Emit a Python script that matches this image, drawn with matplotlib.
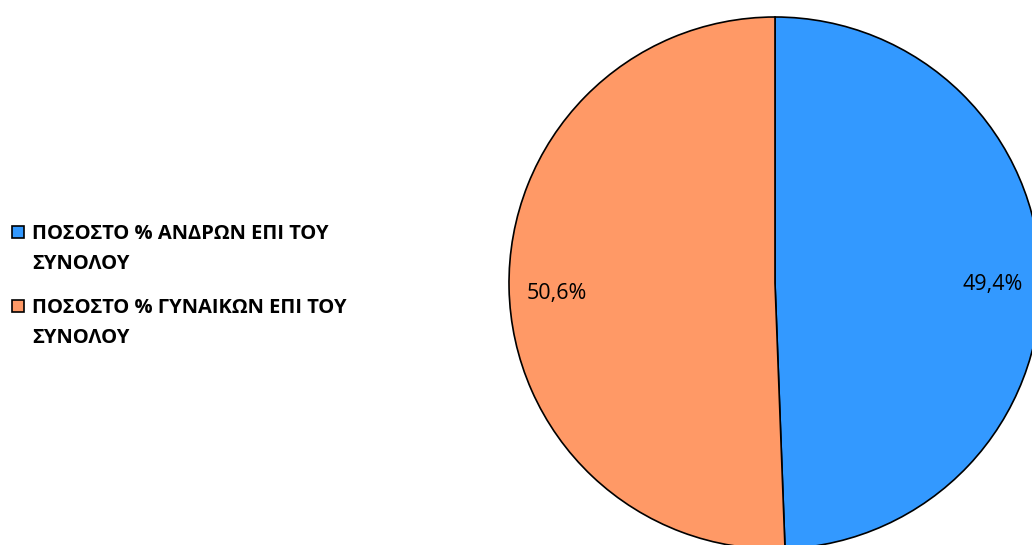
import matplotlib.pyplot as plt
from matplotlib.patches import Rectangle

# data
labels = ['ΠΟΣΟΣΤΟ % ΑΝΔΡΩΝ ΕΠΙ ΤΟΥ\nΣΥΝΟΛΟΥ', 'ΠΟΣΟΣΤΟ % ΓΥΝΑΙΚΩΝ ΕΠΙ ΤΟΥ\nΣΥΝΟΛΟΥ']
values = [49.4, 50.6]
colors = ['#3399FF', '#FF9966']

plt.rcParams['font.family'] = ['Open Sans', 'DejaVu Sans']

W, H = 1032, 545
fig = plt.figure(figsize=(W / 100, H / 100), dpi=100)
ax = fig.add_axes([0, 0, 1, 1])

wedges, texts, autotexts = ax.pie(
    values, colors=colors, startangle=90, counterclock=False,
    center=(775, H - 283), radius=266,
    autopct=lambda p: f'{p:.1f}%'.replace('.', ','), pctdistance=0.82,
    wedgeprops=dict(edgecolor='black', linewidth=1.2),
    textprops=dict(fontsize=15.5, color='black'), frame=True)
# labels sit a little lower in the original
for t in autotexts:
    x, y = t.get_position()
    t.set_position((x, y - 6))

ax.set_xlim(0, W)
ax.set_ylim(0, H)
ax.set_aspect('equal')
ax.axis('off')

# legend drawn by hand so the square sits on the first line
for i, (lab, c) in enumerate(zip(labels, colors)):
    y0 = H - (232 + 74 * i)
    ax.add_patch(Rectangle((12, y0 - 6), 12, 12, facecolor=c, edgecolor='black', linewidth=1.2))
    ax.text(32, y0 - 17, lab, fontsize=14.5, fontweight='bold', va='center', ha='left',
            linespacing=1.72)

fig.savefig('out.png', dpi=100)
